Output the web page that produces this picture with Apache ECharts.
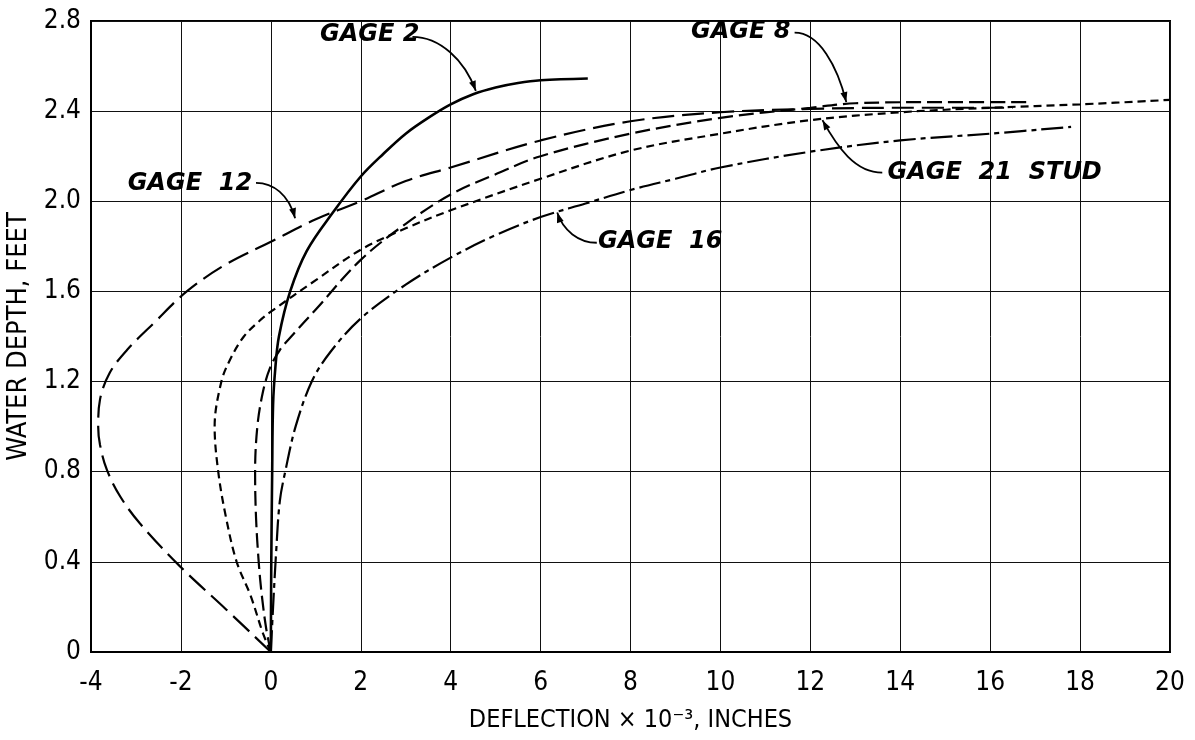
<!DOCTYPE html>
<html><head><meta charset="utf-8">
<script src="https://cdn.jsdelivr.net/npm/echarts@6/dist/echarts.min.js"></script>
<style>html,body{margin:0;padding:0;background:#fff}#c{width:1195px;height:740px}</style>
</head><body><div id="c"></div>
<script>
// ---- data ----
const xMin = -4, xMax = 20, xStep = 2;
const yMin = 0, yMax = 2.8, yStep = 0.4;
const xTitle = 'DEFLECTION \u00d7 10\u207b\u00b3, INCHES';
const yTitle = 'WATER DEPTH, FEET';

const gage2 = [[0,0],[0.01,0.4],[0.03,0.8],[0.05,1.1],[0.1,1.26],[0.18,1.4],[0.43,1.6],[0.8,1.78],[1.38,1.95],[2,2.11],[2.5,2.21],[3,2.3],[3.5,2.37],[4,2.43],[4.5,2.475],[5,2.505],[5.5,2.525],[6,2.537],[7.05,2.545]];
const gage8 = [[0,0],[-0.1,0.1],[-0.2,0.25],[-0.27,0.4],[-0.33,0.6],[-0.35,0.8],[-0.3,1.0],[-0.18,1.15],[-0.02,1.26],[0.2,1.34],[0.5,1.41],[1.0,1.52],[2,1.74],[3,1.9],[4,2.03],[5,2.12],[6,2.2],[8,2.3],[10,2.37],[12,2.415],[13,2.435],[15,2.44],[16.9,2.44]];
const gage12 = [[0,0],[-1,0.19],[-2.02,0.38],[-2.91,0.57],[-3.35,0.69],[-3.65,0.81],[-3.8,0.92],[-3.84,1.0],[-3.8,1.12],[-3.58,1.24],[-3.2,1.34],[-2.6,1.46],[-1.87,1.6],[-1,1.72],[0,1.82],[1,1.92],[2,2.0],[3,2.09],[4,2.15],[6,2.27],[8,2.355],[10,2.395],[12,2.41],[14,2.415],[16.5,2.415]];
const gage16 = [[0,0],[0.05,0.2],[0.12,0.45],[0.2,0.67],[0.32,0.8],[0.55,1.0],[0.91,1.2],[1.32,1.33],[2,1.48],[3,1.63],[4,1.75],[5,1.85],[6,1.93],[7,1.99],[8,2.05],[9,2.1],[10,2.15],[12,2.22],[14,2.27],[16,2.3],[17.8,2.33]];
const gage21 = [[0,0],[-0.17,0.08],[-0.45,0.25],[-0.76,0.4],[-1.0,0.6],[-1.17,0.8],[-1.25,1.0],[-1.1,1.2],[-0.9,1.3],[-0.6,1.4],[-0.25,1.47],[0,1.51],[1,1.65],[2,1.785],[3,1.88],[4,1.96],[6,2.1],[8,2.225],[10,2.3],[12,2.36],[14,2.395],[16,2.415],[18,2.43],[20,2.45]];

// annotation labels and leader curves, in data coordinates
const notes = [
  {text:'GAGE 2',  at:[2.2,2.74],  path:[[3.15,2.73],[3.75,2.73],[4.3,2.63],[4.56,2.49]]},
  {text:'GAGE 8',  at:[10.45,2.752], path:[[11.65,2.748],[12.2,2.748],[12.6,2.6],[12.8,2.44]]},
  {text:'GAGE  12', at:[-1.8,2.078], path:[[-0.33,2.082],[0.05,2.082],[0.4,2.03],[0.54,1.925]]},
  {text:'GAGE  16', at:[8.66,1.82],  path:[[7.25,1.816],[6.85,1.816],[6.5,1.87],[6.37,1.95]]},
  {text:'GAGE  21  STUD', at:[16.1,2.127], path:[[13.6,2.127],[13.0,2.127],[12.6,2.24],[12.27,2.36]]}
];

const labelFont = "'Liberation Sans Narrow','DejaVu Sans Condensed','Liberation Sans',sans-serif";
const chart = echarts.init(document.getElementById('c'));

function line(name, data, type, width){
  return {name, type:'line', data, showSymbol:false, smooth:0.35, clip:true,
    lineStyle:{color:'#000', width:width||2.2, type:type, cap:'butt'}, z:3, animation:false};
}

chart.setOption({
  backgroundColor:'#fff',
  animation:false,
  grid:{left:91, right:25, top:21, bottom:88, containLabel:false, outerBoundsMode:'none',
    show:true, borderColor:'#000', borderWidth:2, backgroundColor:'transparent'},
  xAxis:{type:'value', min:xMin, max:xMax, interval:xStep,
    name:xTitle, nameLocation:'middle', nameGap:56,
    nameTextStyle:{color:'#000', fontSize:25, fontFamily:labelFont},
    axisLine:{show:true, onZero:false, lineStyle:{color:'#000', width:2}},
    axisTick:{show:false},
    axisLabel:{color:'#000', fontSize:26, margin:18, fontFamily:labelFont},
    splitLine:{show:true, lineStyle:{color:'#111', width:1}}},
  yAxis:{type:'value', min:yMin, max:yMax, interval:yStep,
    name:yTitle, nameLocation:'middle', nameGap:58,
    nameTextStyle:{color:'#000', fontSize:27, fontFamily:labelFont},
    axisLine:{show:true, onZero:false, lineStyle:{color:'#000', width:2}},
    axisTick:{show:false},
    axisLabel:{color:'#000', fontSize:26, margin:10, fontFamily:labelFont,
      formatter:v => Math.abs(v) < 1e-9 ? '0' : v.toFixed(1)},
    splitLine:{show:true, lineStyle:{color:'#111', width:1}}},
  series:[
    line('GAGE 2', gage2, 'solid', 2.6),
    line('GAGE 8', gage8, [15,6], 2.2),
    line('GAGE 12', gage12, [22,8], 2.2),
    line('GAGE 16', gage16, [22,5,5,5], 2.2),
    line('GAGE 21 STUD', gage21, [8,5], 2.2)
  ]
});

// leader curves and labels positioned through the chart's own coordinate system
const P = d => chart.convertToPixel({gridIndex:0}, d);
const els = [];
notes.forEach(n => {
  const c = P(n.at);
  els.push({type:'text', z:10, style:{text:n.text, x:c[0], y:c[1], font:"italic bold 24px 'DejaVu Sans', sans-serif",
    fill:'#000', align:'center', verticalAlign:'middle', textAlign:'center', textVerticalAlign:'middle'}});
  const p = n.path.map(P);
  els.push({type:'bezierCurve', z:10, shape:{x1:p[0][0], y1:p[0][1], cpx1:p[1][0], cpy1:p[1][1], cpx2:p[2][0], cpy2:p[2][1], x2:p[3][0], y2:p[3][1]},
    style:{stroke:'#000', lineWidth:1.8, fill:null}});
  const dx = p[3][0]-p[2][0], dy = p[3][1]-p[2][1], L = Math.hypot(dx,dy) || 1;
  const ux = dx/L, uy = dy/L, len = 10, hw = 3.5;
  const bx = p[3][0]-ux*len, by = p[3][1]-uy*len;
  els.push({type:'polygon', z:10, shape:{points:[[p[3][0],p[3][1]],[bx-uy*hw, by+ux*hw],[bx+uy*hw, by-ux*hw]]}, style:{fill:'#000'}});
});
chart.setOption({graphic:{elements:els}});
</script>
</body></html>
